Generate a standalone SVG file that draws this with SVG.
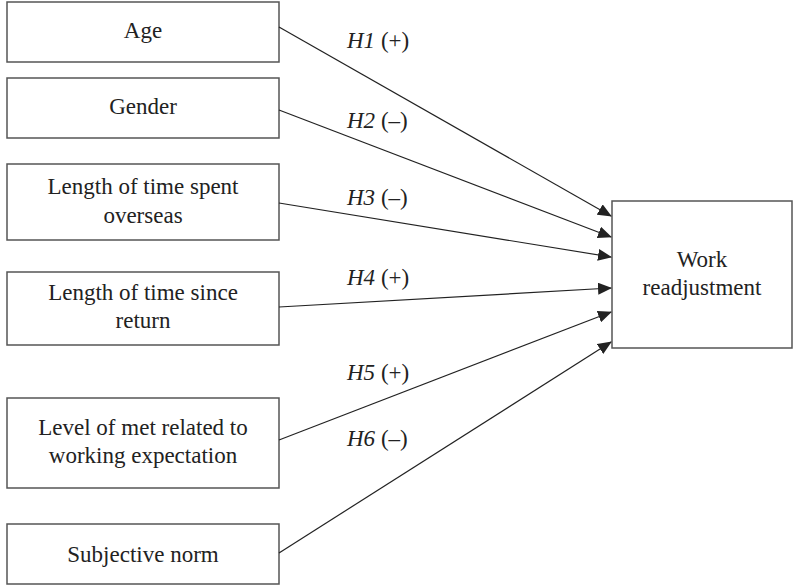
<svg xmlns="http://www.w3.org/2000/svg" width="794" height="585" viewBox="0 0 794 585" font-family="Liberation Serif, Times New Roman, serif">
<style>
.box{fill:#fff;stroke:#555;stroke-width:1.5}
.t{font-size:23px;fill:#222;text-anchor:middle}
.h{font-size:23px;fill:#222}
.c{stroke:#222;stroke-width:1.2;fill:none}
</style>
<defs>
<marker id="ah" markerUnits="userSpaceOnUse" markerWidth="14" markerHeight="12" refX="13" refY="6" orient="auto">
<path d="M0,0 L14,6 L0,12 Z" fill="#222"/>
</marker>
</defs>
<rect width="794" height="585" fill="#fff"/>
<g id="n1"><rect class="box" x="7" y="2" width="272" height="60"/><text class="t" x="143" y="38">Age</text></g>
<g id="n2"><rect class="box" x="7" y="78" width="272" height="60"/><text class="t" x="143" y="114">Gender</text></g>
<g id="n3"><rect class="box" x="7" y="164" width="272" height="76"/><text class="t" x="143" y="194">Length of time spent</text><text class="t" x="143" y="223">overseas</text></g>
<g id="n4"><rect class="box" x="7" y="272" width="272" height="73"/><text class="t" x="143" y="300">Length of time since</text><text class="t" x="143" y="328">return</text></g>
<g id="n5"><rect class="box" x="7" y="398" width="272" height="90"/><text class="t" x="143" y="435">Level of met related to</text><text class="t" x="143" y="463">working expectation</text></g>
<g id="n6"><rect class="box" x="7" y="524" width="272" height="60"/><text class="t" x="143" y="562">Subjective norm</text></g>
<g id="n7"><rect class="box" x="612" y="201" width="180" height="147"/><text class="t" x="702" y="267">Work</text><text class="t" x="702" y="295">readjustment</text></g>
<g id="connectors">
<line class="c" x1="279" y1="27" x2="611" y2="216" marker-end="url(#ah)"/>
<line class="c" x1="279" y1="110" x2="611" y2="237" marker-end="url(#ah)"/>
<line class="c" x1="279" y1="203" x2="611" y2="257" marker-end="url(#ah)"/>
<line class="c" x1="279" y1="307" x2="611" y2="288" marker-end="url(#ah)"/>
<line class="c" x1="279" y1="440" x2="611" y2="312" marker-end="url(#ah)"/>
<line class="c" x1="279" y1="553" x2="611" y2="342" marker-end="url(#ah)"/>
</g>
<g id="labels">
<text class="h" x="347" y="48"><tspan font-style="italic">H1</tspan> (+)</text>
<text class="h" x="347" y="128"><tspan font-style="italic">H2</tspan> (–)</text>
<text class="h" x="347" y="205"><tspan font-style="italic">H3</tspan> (–)</text>
<text class="h" x="347" y="285"><tspan font-style="italic">H4</tspan> (+)</text>
<text class="h" x="347" y="380"><tspan font-style="italic">H5</tspan> (+)</text>
<text class="h" x="347" y="446"><tspan font-style="italic">H6</tspan> (–)</text>
</g>
</svg>
